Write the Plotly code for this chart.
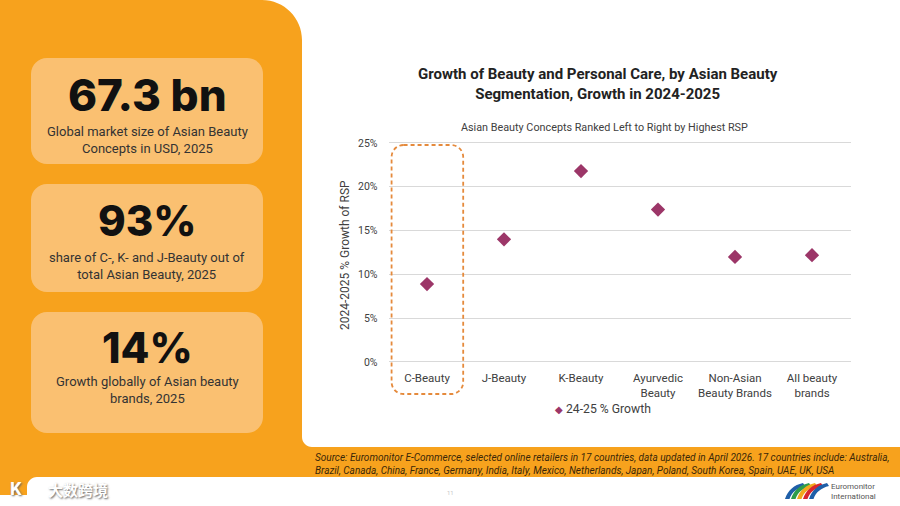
import plotly.graph_objects as go

# ---------------- data ----------------
categories = ["C-Beauty", "J-Beauty", "K-Beauty", "Ayurvedic<br>Beauty",
              "Non-Asian<br>Beauty Brands", "All beauty<br>brands"]
growth = [0.089, 0.140, 0.218, 0.174, 0.120, 0.122]
series_name = "24-25 % Growth"
y_tick_vals = [0, 0.05, 0.10, 0.15, 0.20, 0.25]
y_tick_text = ["0%", "5%", "10%", "15%", "20%", "25%"]

kpi_values = ["67.3 bn", "93%", "14%"]
kpi_labels = ["Global market size of Asian Beauty<br>Concepts in USD, 2025",
              "share of C-, K- and J-Beauty out of<br>total Asian Beauty, 2025",
              "Growth globally of Asian beauty<br>brands, 2025"]

chart_title = "Growth of Beauty and Personal Care, by Asian Beauty<br>Segmentation, Growth in 2024-2025"
chart_subtitle = "Asian Beauty Concepts Ranked Left to Right by Highest RSP"
y_title = "2024-2025 % Growth of RSP"
source_text = ("Source: Euromonitor E-Commerce, selected online retailers in 17 countries, data updated in April 2026. 17 countries include: Australia,<br>"
               "Brazil, Canada, China, France, Germany, India, Italy, Mexico, Netherlands, Japan, Poland, South Korea, Spain, UAE, UK, USA")

# ---------------- style ----------------
W, H = 900, 506
ORANGE = "#F7A21D"
CARD = "#FAC071"
MARKER = "#9C3668"
FONT = "Roboto, 'Noto Sans', sans-serif"
BIG_FONT = "Inter, Roboto, sans-serif"

PLOT_X0, PLOT_X1 = 388.5, 850.5
PLOT_Y0, PLOT_Y1 = 143.0, 362.0  # pixel rows of 25% and 0%
Y_LO, Y_HI = 0.0, 0.25
Y_PAD = 0.002  # small pad so the edge gridlines (0% and 25%) are drawn


def P(x, y):
    return x / W, 1 - y / H


def path_from(cmds):
    out = []
    for c in cmds:
        op = c[0]
        pts = c[1:]
        coords = []
        for i in range(0, len(pts), 2):
            px, py = P(pts[i], pts[i + 1])
            coords.append(f"{px:.5f},{py:.5f}")
        out.append(op + " " + " ".join(coords))
    return " ".join(out) + " Z"


K = 0.5523


def rrect(x0, y0, x1, y1, r):
    k = r * K
    return path_from([
        ("M", x0 + r, y0), ("L", x1 - r, y0),
        ("C", x1 - r + k, y0, x1, y0 + r - k, x1, y0 + r),
        ("L", x1, y1 - r),
        ("C", x1, y1 - r + k, x1 - r + k, y1, x1 - r, y1),
        ("L", x0 + r, y1),
        ("C", x0 + r - k, y1, x0, y1 - r + k, x0, y1 - r),
        ("L", x0, y0 + r),
        ("C", x0, y0 + r - k, x0 + r - k, y0, x0 + r, y0),
    ])


shapes = []
# orange background frame
orange_path = path_from([
    ("M", 0, 0), ("L", 262, 0),
    ("C", 262 + 40 * K, 0, 302, 40 - 40 * K, 302, 40),
    ("L", 302, 437),
    ("C", 302, 437 + 10 * K, 312 - 10 * K, 447, 312, 447),
    ("L", 900, 447), ("L", 900, 477), ("L", 37, 477),
    ("C", 37 - 10 * K, 477, 27, 487 - 10 * K, 27, 487),
    ("L", 27, 495), ("L", 0, 495),
])
shapes.append(dict(type="path", path=orange_path, xref="paper", yref="paper",
                   fillcolor=ORANGE, line=dict(width=0), layer="below"))

cards = [(31, 58, 263, 164), (31, 184, 263, 292), (31, 312, 263, 433)]
for (x0, y0, x1, y1) in cards:
    shapes.append(dict(type="path", path=rrect(x0, y0, x1, y1, 16), xref="paper", yref="paper",
                       fillcolor=CARD, line=dict(width=0), layer="below"))

# highlight box around first category
cat_w = (PLOT_X1 - PLOT_X0) / len(categories)
hx0 = PLOT_X0 + cat_w * 0.04
hx1 = PLOT_X0 + cat_w * 0.97
shapes.append(dict(type="path", path=rrect(hx0, 145, hx1, 394, 12), xref="paper", yref="paper",
                   fillcolor="rgba(0,0,0,0)", line=dict(color="#E58A3C", width=1.8, dash="4px,3px"),
                   layer="above"))

# Euromonitor logo (stylised stripes)
logo_cols = ["#1F5FA8", "#2E9C4A", "#F2A81D", "#D8262E", "#1F5FA8"]
for i, col in enumerate(logo_cols):
    bx = 785 + i * 6
    shapes.append(dict(type="path", xref="paper", yref="paper", layer="above",
                       path=path_from([("M", bx, 499), ("C", bx + 3, 490, bx + 9, 485, bx + 18, 483),
                                       ("L", bx + 20, 486), ("C", bx + 12, 488, bx + 7, 492, bx + 4.5, 499)]),
                       fillcolor=col, line=dict(width=0)))

annotations = []


def ann(text, x, y, size, color="#222", xa="center", ya="middle", weight="normal",
        family=FONT, style="normal", align="center", angle=0, shadow=None):
    ax, ay = P(x, y)
    f = dict(size=size, color=color, family=family, weight=weight, style=style)
    if shadow:
        f["shadow"] = shadow
    annotations.append(dict(text=text, x=ax, y=ay, xref="paper", yref="paper",
                            xanchor=xa, yanchor=ya, showarrow=False, font=f,
                            align=align, textangle=angle))


big_y = [95, 221, 347]
big_size = [44, 42, 42]
lab_y = [140, 266, 390]
for v, l, by, bs, ly in zip(kpi_values, kpi_labels, big_y, big_size, lab_y):
    ann(v, 147, by, bs, color="#111", weight=800, family=BIG_FONT)
    ann(l, 147, ly, 13, color="#333")

ann(chart_title, 598, 84, 15, color="#222", weight="bold")
ann(chart_subtitle, 604, 128, 10.8, color="#404040")
ann(y_title, 345, 255, 12, color="#404040", angle=-90)
ann("<span style='color:%s;font-size:10px'>◆</span> %s" % (MARKER, series_name), 603, 409, 12.2,
    color="#404040")
ann(source_text, 313, 464, 10, color="#3A2708", xa="left", style="italic", align="left")
ann("11", 450, 492, 6, color="#c8c8c8")
ann("Euromonitor<br>International", 829, 491, 8, color="#555", xa="left", align="left")
ann("大数跨境", 46, 489, 15, color="#ffffff", family="'Noto Sans CJK SC'", weight="bold",
    xa="left", shadow="1px 1px 2px #666")
ann("K", 8, 488, 18, color="#ffffff", weight="bold", xa="left", shadow="1px 1px 2px #666")

fig = go.Figure()
fig.add_trace(go.Scatter(
    x=categories, y=growth, mode="markers", name=series_name,
    marker=dict(symbol="diamond", size=11, color=MARKER),
    showlegend=False, hoverinfo="x+y"))

# axis domains derived from pixel rows
px_per_unit = (PLOT_Y1 - PLOT_Y0) / (Y_HI - Y_LO)
y_bot_px = PLOT_Y1 + Y_PAD * px_per_unit
y_top_px = PLOT_Y0 - Y_PAD * px_per_unit
dx0, _ = P(PLOT_X0, 0)
dx1, _ = P(PLOT_X1, 0)
_, dy0 = P(0, y_bot_px)
_, dy1 = P(0, y_top_px)

fig.update_layout(
    width=W, height=H, margin=dict(l=0, r=0, t=0, b=0, pad=0, autoexpand=False),
    paper_bgcolor="white", plot_bgcolor="rgba(0,0,0,0)",
    shapes=shapes, annotations=annotations, showlegend=False,
    font=dict(family=FONT),
    xaxis=dict(domain=[dx0, dx1], type="category", range=[-0.5, len(categories) - 0.5],
               showgrid=False, showline=False, zeroline=False, ticks="", automargin=False,
               ticklabelstandoff=6,
               tickfont=dict(size=11.5, color="#404040", family=FONT), fixedrange=True),
    yaxis=dict(domain=[dy0, dy1], range=[Y_LO - Y_PAD, Y_HI + Y_PAD],
               tickvals=y_tick_vals, ticktext=y_tick_text,
               showgrid=True, gridcolor="#D9D9D9", gridwidth=1, zeroline=False, showline=False,
               ticks="", automargin=False, ticklabelstandoff=10,
               tickfont=dict(size=10.5, color="#404040", family=FONT), fixedrange=True),
)

fig.write_html("out.html", config={"displayModeBar": False},
               post_script="document.body.style.margin='0';document.body.style.overflow='hidden';")
